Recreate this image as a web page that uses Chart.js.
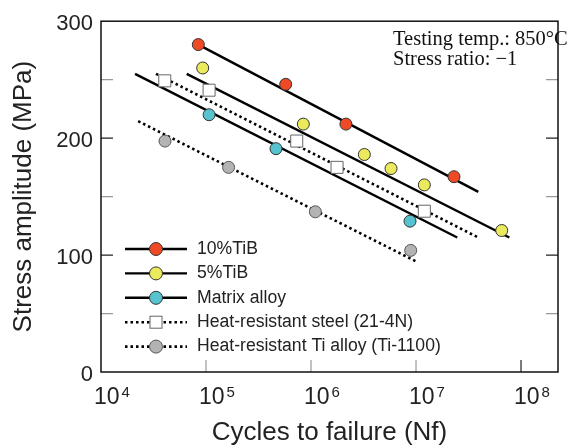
<!DOCTYPE html>
<html>
<head>
<meta charset="utf-8">
<script src="https://cdn.jsdelivr.net/npm/chart.js@4.4.1/dist/chart.umd.min.js"></script>
<style>
  html, body { margin: 0; padding: 0; background: #fff; }
  #wrap { width: 570px; height: 448px; }
</style>
</head>
<body>
<div id="wrap"><canvas id="snChart" width="570" height="448"></canvas></div>
<script>
// S-N data (cycles to failure, stress amplitude in MPa)
const tib10Cycles = [8.45e4, 5.74e5, 2.15e6, 2.30e7];
const tib10Stress = [280, 246, 212, 167];
const tib10FitCycles = [8.45e4, 3.92e7];
const tib10FitStress = [280, 154];

const tib5Cycles = [9.3e4, 8.45e5, 3.22e6, 5.78e6, 1.20e7, 6.55e7];
const tib5Stress = [260, 212, 186, 174, 160, 121];
const tib5FitCycles = [6.55e4, 7.74e7];
const tib5FitStress = [255, 115];

const matrixCycles = [1.07e5, 4.64e5, 8.77e6];
const matrixStress = [220, 191, 129];
const matrixFitCycles = [2.11e4, 2.47e7];
const matrixFitStress = [255, 115];

const steelCycles = [4.05e4, 1.07e5, 7.31e5, 1.77e6, 1.20e7];
const steelStress = [249, 241, 197.5, 175, 137.5];
const steelFitCycles = [3.34e4, 3.92e7];
const steelFitStress = [255, 115];

const tiCycles = [4.07e4, 1.64e5, 1.10e6, 8.9e6];
const tiStress = [197.5, 175, 137, 104];
const tiFitCycles = [2.26e4, 1.03e7];
const tiFitStress = [214.5, 94];

const seriesLabels = ['10%TiB', '5%TiB', 'Matrix alloy', 'Heat-resistant steel (21-4N)', 'Heat-resistant Ti alloy (Ti-1100)'];
const decadeTicks = [1e4, 1e5, 1e6, 1e7, 1e8];
const stressTicks = [0, 50, 100, 150, 200, 250, 300];
const noteLines = ['Testing temp.: 850\u00B0C', 'Stress ratio: \u22121'];

const pts = (xs, ys) => xs.map((x, i) => ({ x: x, y: ys[i] }));

const looks = [
  { fill: '#ee4a26', edge: '#333', shape: 'circle', r: 6, dash: [] },
  { fill: '#ebe95c', edge: '#333', shape: 'circle', r: 6, dash: [] },
  { fill: '#56c3cf', edge: '#333', shape: 'circle', r: 6, dash: [] },
  { fill: '#ffffff', edge: '#666', shape: 'rect', r: 8.5, dash: [2.5, 3] },
  { fill: '#b3b3b3', edge: '#555', shape: 'circle', r: 6, dash: [2.5, 3] }
];

const marks = [
  pts(tib10Cycles, tib10Stress), pts(tib5Cycles, tib5Stress), pts(matrixCycles, matrixStress),
  pts(steelCycles, steelStress), pts(tiCycles, tiStress)
];
const fits = [
  pts(tib10FitCycles, tib10FitStress), pts(tib5FitCycles, tib5FitStress), pts(matrixFitCycles, matrixFitStress),
  pts(steelFitCycles, steelFitStress), pts(tiFitCycles, tiFitStress)
];

const datasets = [];
marks.forEach((m, i) => {
  datasets.push({
    type: 'scatter', label: seriesLabels[i], data: m, order: 1,
    pointStyle: looks[i].shape, pointRadius: looks[i].r, pointHoverRadius: looks[i].r,
    backgroundColor: looks[i].fill, borderColor: looks[i].edge, borderWidth: 1, showLine: false
  });
});
fits.forEach((f, i) => {
  datasets.push({
    type: 'line', label: seriesLabels[i] + ' fit', data: f, order: 2,
    borderColor: '#000', borderWidth: looks[i].dash.length ? 2.6 : 2.4, borderDash: looks[i].dash,
    pointRadius: 0, fill: false, tension: 0
  });
});

// frame, inward ticks, decade labels, legend and note
const decor = {
  id: 'decor',
  afterDraw(chart) {
    const ctx = chart.ctx;
    const a = chart.chartArea;
    const xs = chart.scales.x, ys = chart.scales.y;
    ctx.save();

    // ticks pointing into the plot
    stressTicks.forEach(v => {
      if (v === 0 || v === 300) return;
      const py = ys.getPixelForValue(v);
      ctx.strokeStyle = v % 100 === 0 ? '#222' : '#999';
      ctx.lineWidth = 1.2;
      ctx.beginPath();
      ctx.moveTo(a.left, py); ctx.lineTo(a.left + 12, py);
      ctx.moveTo(a.right, py); ctx.lineTo(a.right - 12, py);
      ctx.stroke();
    });
    decadeTicks.forEach(v => {
      if (v === 1e4) return;
      const px = xs.getPixelForValue(v);
      ctx.strokeStyle = v === 1e8 ? '#222' : '#999';
      ctx.lineWidth = 1.2;
      ctx.beginPath();
      ctx.moveTo(px, a.bottom); ctx.lineTo(px, a.bottom - 12);
      ctx.stroke();
    });

    // frame
    ctx.strokeStyle = '#111';
    ctx.lineWidth = 1.5;
    ctx.strokeRect(a.left, a.top, a.right - a.left, a.bottom - a.top);

    // decade labels 10^n
    ctx.fillStyle = '#222';
    ctx.textBaseline = 'alphabetic';
    decadeTicks.forEach(v => {
      const px = xs.getPixelForValue(v);
      ctx.font = '23px "Liberation Sans", Arial, sans-serif';
      ctx.textAlign = 'left';
      ctx.fillText('10', px - 7, 404);
      const w = ctx.measureText('10').width;
      ctx.font = '15px "Liberation Sans", Arial, sans-serif';
      ctx.fillText(String(Math.round(Math.log10(v))), px - 7 + w + 2, 397);
    });

    // legend
    const rowY0 = 249, rowStep = 24.4;
    seriesLabels.forEach((lab, i) => {
      const y = rowY0 + i * rowStep;
      const lk = looks[i];
      ctx.strokeStyle = '#000';
      ctx.lineWidth = lk.dash.length ? 2.6 : 2.4;
      ctx.setLineDash(lk.dash);
      ctx.beginPath();
      ctx.moveTo(125, y); ctx.lineTo(187, y);
      ctx.stroke();
      ctx.setLineDash([]);
      ctx.fillStyle = lk.fill;
      ctx.strokeStyle = lk.edge;
      ctx.lineWidth = 1;
      if (lk.shape === 'rect') {
        ctx.fillRect(150, y - 6, 12, 12);
        ctx.strokeRect(150, y - 6, 12, 12);
      } else {
        ctx.beginPath();
        ctx.arc(156, y, 6.5, 0, Math.PI * 2);
        ctx.fill(); ctx.stroke();
      }
      ctx.fillStyle = '#222';
      ctx.font = '17.6px "Liberation Sans", Arial, sans-serif';
      ctx.textAlign = 'left';
      ctx.textBaseline = 'middle';
      ctx.fillText(lab, 197, y);
    });

    // test conditions note
    ctx.font = '20.5px "Liberation Serif", "Times New Roman", serif';
    ctx.fillStyle = '#111';
    ctx.textBaseline = 'alphabetic';
    ctx.fillText(noteLines[0], 393, 45);
    ctx.fillText(noteLines[1], 393, 65);

    ctx.restore();
  }
};

new Chart(document.getElementById('snChart').getContext('2d'), {
  data: { datasets: datasets },
  options: {
    responsive: false,
    animation: false,
    events: [],
    layout: { padding: { left: 0, right: 12, top: 17, bottom: 0 } },
    plugins: { legend: { display: false }, tooltip: { enabled: false } },
    scales: {
      x: {
        type: 'logarithmic',
        min: 1e4,
        max: 2.25e8,
        grid: { display: false, drawTicks: false },
        border: { display: false },
        ticks: { display: false },
        title: {
          display: true,
          text: 'Cycles to failure (Nf)',
          color: '#222',
          font: { family: '"Liberation Sans", Arial, sans-serif', size: 26 },
          padding: { top: 0, bottom: 0 }
        },
        afterFit(scale) { scale.height = 76; }
      },
      y: {
        type: 'linear',
        min: 0,
        max: 300,
        grid: { display: false, drawTicks: false },
        border: { display: false },
        ticks: {
          stepSize: 50,
          padding: 8,
          labelOffset: 3,
          color: '#222',
          font: { family: '"Liberation Sans", Arial, sans-serif', size: 22 },
          callback: v => (v % 100 === 0 ? String(v) : '')
        },
        title: {
          display: true,
          text: 'Stress amplitude (MPa)',
          color: '#222',
          font: { family: '"Liberation Sans", Arial, sans-serif', size: 26 },
          padding: { top: 8, bottom: 0 }
        },
        afterFit(scale) { scale.width = 101; }
      }
    }
  },
  plugins: [decor]
});
</script>
</body>
</html>
